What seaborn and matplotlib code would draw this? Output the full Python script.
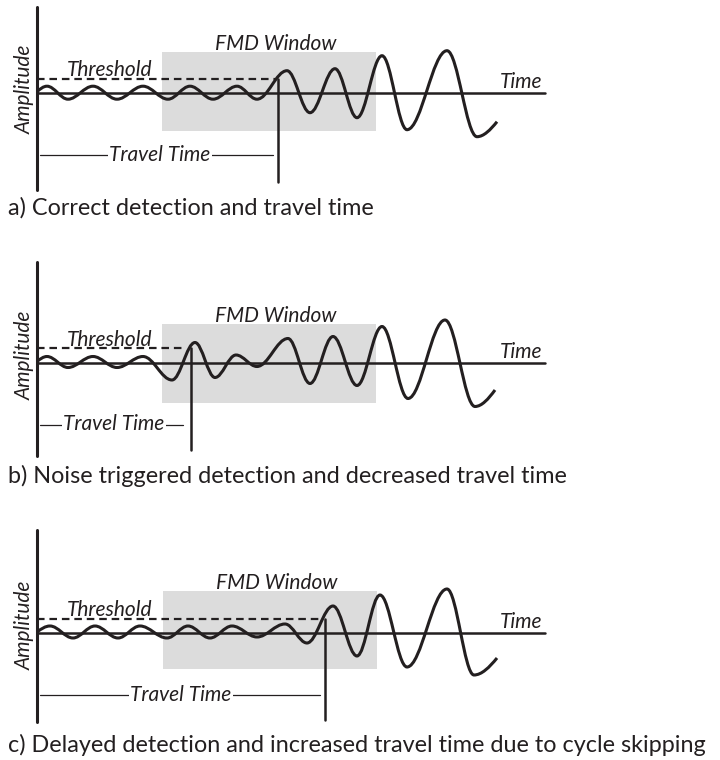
import matplotlib
matplotlib.use("Agg")
import matplotlib.pyplot as plt
import seaborn as sns
from matplotlib.path import Path
from matplotlib.patches import PathPatch, Rectangle

# ---------------- data (time / amplitude units) ----------------
captions = ["a) Correct detection and travel time",
            "b) Noise triggered detection and decreased travel time",
            "c) Delayed detection and increased travel time due to cycle skipping"]

# wave extrema (time, amplitude) for each panel
wave_a_time = [0, 10, 31, 56, 80, 106, 131, 153, 176, 200, 220, 250, 273, 298, 320, 345, 370, 410, 440, 460]
wave_a_amp = [1, 6.5, -6.5, 6.5, -6.5, 6.5, -6.5, 6.5, -6.5, 6.5, -6.5, 22, -20, 24, -25, 37, -37, 42, -44, -29]

wave_b_time = [0, 10, 31, 56, 80, 106, 135, 158, 178, 199, 220, 251, 273, 296, 320, 345, 371, 408, 438, 458]
wave_b_amp = [1, 6, -5, 6, -5, 6, -17.5, 20, -15, 7.5, -4, 24, -21, 26, -23, 36, -36, 42.5, -44, -27.5]

wave_c_time = [0, 13, 36, 58, 81, 103, 130, 151, 173, 195, 220, 248, 270, 296, 320, 343, 370, 410, 437, 460]
wave_c_amp = [1, 7, -5, 7, -5, 7, -5, 7, -5, 7, -4, 9, -10, 27, -23, 38, -34, 44, -42, -25]

threshold_amp = [14, 14.5, 14]
detect_time = [241, 154, 288]
window_start = [125, 125, 126]
window_end = [339, 339, 340]
window_top = [40.7, 38.5, 42]
window_bottom = [-38.3, -40.5, -36]

travel_time_label = "Travel Time"
threshold_label = "Threshold"
window_label = "FMD Window"
time_label = "Time"
amp_label = "Amplitude"

waves = [(wave_a_time, wave_a_amp), (wave_b_time, wave_b_amp), (wave_c_time, wave_c_amp)]

# ---------------- layout / styling ----------------
sns.set_theme(style="white")
plt.rcParams["font.family"] = ["Lato", "DejaVu Sans"]

W, H = 720, 760
fig = plt.figure(figsize=(W / 100, H / 100), dpi=100)
fig.patch.set_facecolor("white")

baseline_px = [92.7, 362.5, 633]
bands = [(0, 250), (250, 505), (505, 760)]
axis_top = [86, 101, 103]
axis_bottom = [-97, -93, -89]
detect_bottom = [-89, -87.5, -87]
tt_text_x = [123, 77, 144]
tt_line_end = [236, 146, 283]
amp_label_y = [3, 7.5, 8]
caption_y = [-121.5, -120.5, -119]
thr_dash_end = [238, 148, 286]
time_axis_end = 508

INK = "#231f20"
GRAY = "#dcdcdc"
LABEL_FS = 15
CAPTION_FS = 16.8


def wave_patch(ts, amps, k=0.364):
    verts = [(ts[0], amps[0])]
    codes = [Path.MOVETO]
    n = len(ts)
    for i in range(1, n):
        x0, y0 = ts[i - 1], amps[i - 1]
        x1, y1 = ts[i], amps[i]
        dx, dy = x1 - x0, y1 - y0
        c1 = (x0 + k * dx, y0)
        c2 = (x1 - k * dx, y1)
        if i == 1:
            c1 = (x0 + dx / 3, y0 + 0.52 * dy)
        if i == n - 1:
            c1 = (x0 + dx / 3, y0)
            c2 = (x1 - dx / 3, y1 - 0.55 * dy)
        verts += [c1, c2, (x1, y1)]
        codes += [Path.CURVE4] * 3
    return PathPatch(Path(verts, codes), facecolor="none", edgecolor=INK,
                     lw=2.2, capstyle="butt", joinstyle="round", zorder=5)


def seg(ax, xs, ys, **kw):
    sns.lineplot(x=xs, y=ys, ax=ax, estimator=None, sort=False, legend=False,
                 color=INK, **kw)


for i in range(3):
    top, bot = bands[i]
    Y0 = baseline_px[i]
    ax = fig.add_axes([0, 1 - bot / H, 1, (bot - top) / H])
    ax.set_xlim(-37, W - 37)
    ax.set_ylim(Y0 - bot, Y0 - top)
    ax.set_axis_off()

    # FMD window
    ax.add_patch(Rectangle((window_start[i], window_bottom[i]),
                           window_end[i] - window_start[i],
                           window_top[i] - window_bottom[i],
                           facecolor=GRAY, edgecolor="none", zorder=1))
    # axes of the schematic
    seg(ax, [0, 0], [axis_bottom[i], axis_top[i]], lw=2.2, zorder=4)
    seg(ax, [0, time_axis_end], [0, 0], lw=1.8, zorder=4)
    # threshold
    seg(ax, [0, thr_dash_end[i]], [threshold_amp[i], threshold_amp[i]], lw=1.6,
        dashes=False, linestyle=(0, (3.4, 2.2)), zorder=4)
    # wave
    ax.add_patch(wave_patch(*waves[i]))
    # detection line
    seg(ax, [detect_time[i], detect_time[i]], [threshold_amp[i], detect_bottom[i]],
        lw=1.8, zorder=6)
    # travel time
    seg(ax, [3, tt_line_end[i]], [-62, -62], lw=0.9, zorder=4)
    ax.text(tt_text_x[i], -62, travel_time_label, ha="center", va="center",
            fontsize=LABEL_FS, style="italic", color=INK, zorder=7,
            bbox=dict(facecolor="white", edgecolor="none", pad=1.0))

    # labels
    ax.text(-12, amp_label_y[i], amp_label, rotation=90, ha="center", va="center",
            fontsize=LABEL_FS, style="italic", color=INK)
    ax.text(73, threshold_amp[i] + 2.5, threshold_label, ha="center", va="baseline",
            fontsize=LABEL_FS, style="italic", color=INK)
    ax.text((window_start[i] + window_end[i]) / 2 + 7, window_top[i] + 2, window_label,
            ha="center", va="baseline", fontsize=LABEL_FS, style="italic", color=INK)
    ax.text(484, 4.5, time_label, ha="center", va="baseline",
            fontsize=LABEL_FS, style="italic", color=INK)
    ax.text(-29, caption_y[i], captions[i], ha="left", va="baseline",
            fontsize=CAPTION_FS, color=INK)

fig.savefig("out.png", dpi=100, facecolor="white")
